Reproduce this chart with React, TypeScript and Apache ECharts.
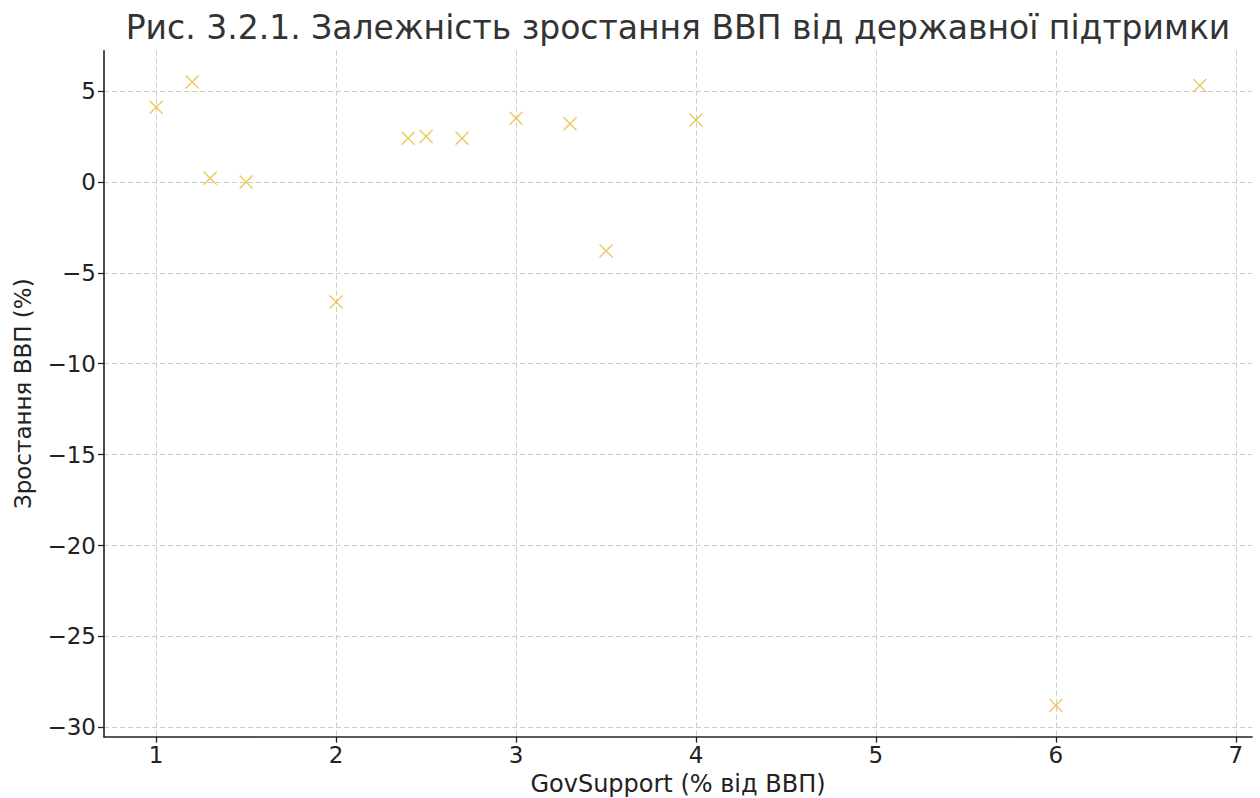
import React, { useEffect, useRef } from "react";
import * as echarts from "echarts";

const govSupport = [1.0, 1.2, 1.3, 1.5, 2.0, 2.4, 2.5, 2.7, 3.0, 3.3, 3.5, 4.0, 6.0, 6.8];
const gdpGrowth = [4.1, 5.5, 0.2, 0.0, -6.6, 2.4, 2.5, 2.4, 3.5, 3.2, -3.8, 3.4, -28.8, 5.3];
const xTicks = [1, 2, 3, 4, 5, 6, 7];
const yTicks = [-30, -25, -20, -15, -10, -5, 0, 5];

const titleText = "Рис. 3.2.1. Залежність зростання ВВП від державної підтримки";
const xName = "GovSupport (% від ВВП)";
const yName = "Зростання ВВП (%)";

const FONT = "DejaVu Sans";

export default function App() {
  const ref = useRef<HTMLDivElement>(null);
  useEffect(() => {
    document.body.style.margin = "0";
    const chart = echarts.init(ref.current!, null, { renderer: "svg" });
    const fmt = (v: number) => String(v).replace("-", "\u2212");
    const axisCommon = {
      axisLine: { show: true, onZero: false, lineStyle: { color: "#222", width: 1.6 } },
      axisTick: { show: true, length: 6, lineStyle: { color: "#222", width: 1.3 } },
      splitLine: { show: true, lineStyle: { color: "#cccccc", type: [5, 3], width: 1 } },
    };
    chart.setOption({
      animation: false,
      backgroundColor: "#fff",
      title: {
        text: titleText,
        left: 673,
        textAlign: "center",
        top: 6,
        textStyle: { fontFamily: FONT, fontSize: 33, fontWeight: "normal", color: "#333" },
      },
      grid: {
        left: 104,
        right: 8,
        top: 50.7,
        bottom: 61.3,
        containLabel: false,
        outerBoundsMode: "none",
      },
      xAxis: {
        type: "value",
        min: 0.71,
        max: 7.09,
        name: xName,
        nameLocation: "middle",
        nameGap: 32,
        nameTextStyle: { fontFamily: FONT, fontSize: 24, color: "#222" },
        ...axisCommon,
        axisTick: { ...axisCommon.axisTick, customValues: xTicks },
        axisLabel: {
          customValues: xTicks,
          formatter: fmt,
          fontFamily: FONT,
          fontSize: 23,
          color: "#222",
          margin: 7,
        },
      },
      yAxis: {
        type: "value",
        min: -30.515,
        max: 7.215,
        name: yName,
        nameLocation: "middle",
        nameGap: 70,
        nameTextStyle: { fontFamily: FONT, fontSize: 23, color: "#222" },
        ...axisCommon,
        axisTick: { ...axisCommon.axisTick, customValues: yTicks },
        axisLabel: {
          customValues: yTicks,
          formatter: fmt,
          fontFamily: FONT,
          fontSize: 23,
          color: "#222",
          margin: 8,
        },
      },
      series: [
        {
          type: "scatter",
          data: govSupport.map((x, i) => [x, gdpGrowth[i]]),
          symbol: "path://M0,0L10,10M10,0L0,10",
          symbolSize: 13,
          itemStyle: { color: "none", borderColor: "#eab935", borderWidth: 1.4 },
        },
      ],
    });
    return () => chart.dispose();
  }, []);
  return <div ref={ref} style={{ width: 1260, height: 798 }} />;
}
